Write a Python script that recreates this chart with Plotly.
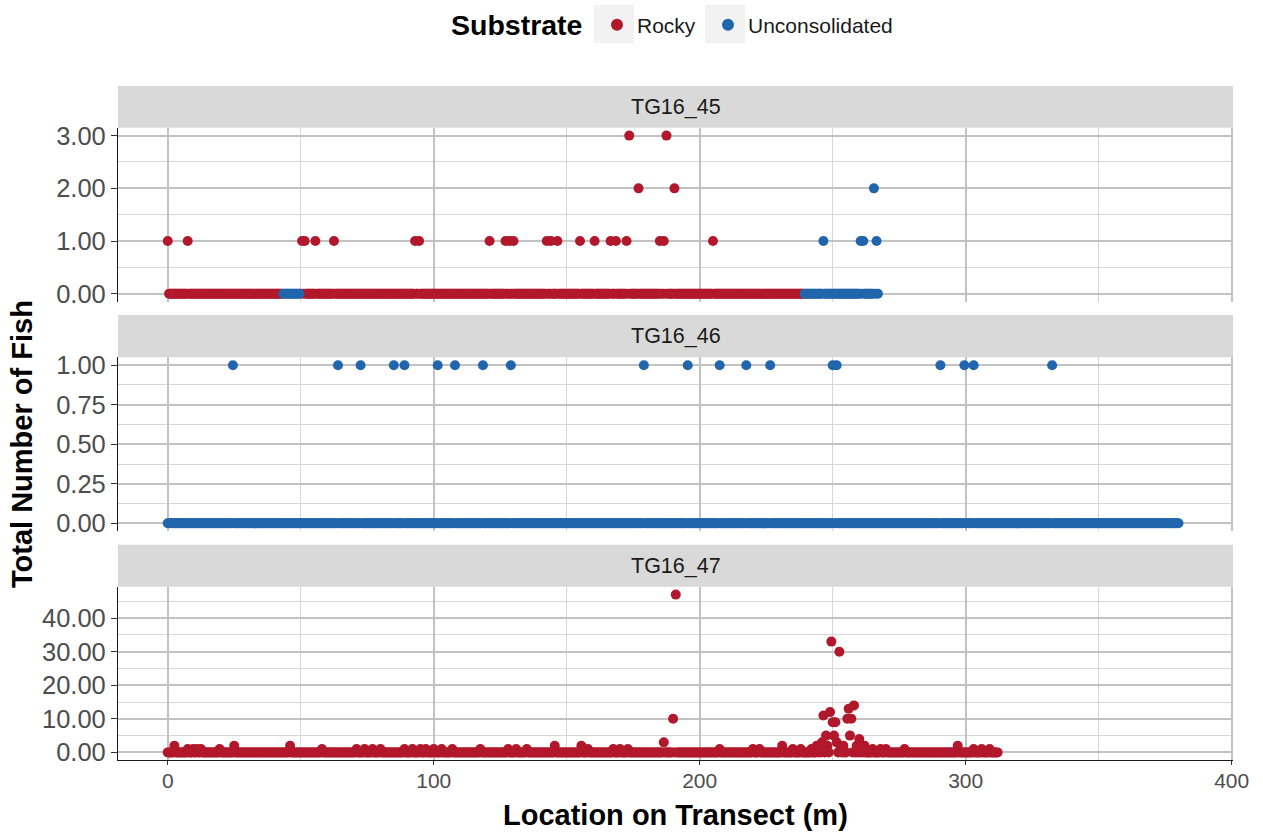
import plotly.graph_objects as go

W, H = 1263, 834
FONT = "Liberation Sans, Arial, sans-serif"

ROCKY_COLOR = "#B2182B"
UNCONS_COLOR = "#2166AC"
SUBSTRATE_COLORS = {"Rocky": ROCKY_COLOR, "Unconsolidated": UNCONS_COLOR}
SUBSTRATES = ["Rocky", "Unconsolidated"]

TRANSECTS = ["TG16_45", "TG16_46", "TG16_47"]

# survey sampling interval along each transect (m)
STEP = 0.5

# substrate segments along each transect: (start m, end m, substrate)
tg45_segments = [(0.0, 43.0, "Rocky"), (43.5, 49.5, "Unconsolidated"),
                 (50.0, 239.0, "Rocky"), (239.5, 267.0, "Unconsolidated")]
tg46_segments = [(0.0, 380.0, "Unconsolidated")]
tg47_segments = [(0.0, 312.0, "Rocky")]

# locations (m) where fish were counted, and the counts there
tg45_fish_loc = [0.0, 7.5, 50.5, 51.5, 55.5, 62.5, 93.0, 94.5, 121.0, 127.0,
                 128.5, 130.0, 142.5, 144.0, 146.5, 155.0, 160.5, 166.5, 168.5, 172.5,
                 173.5, 177.0, 185.0, 186.5, 187.5, 190.5, 205.0,
                 246.5, 260.5, 261.5, 265.5, 266.5]
tg45_fish_n = [1, 1, 1, 1, 1, 1, 1, 1, 1, 1,
               1, 1, 1, 1, 1, 1, 1, 1, 1, 1,
               3, 2, 1, 1, 3, 2, 1,
               1, 1, 1, 2, 1]

tg46_fish_loc = [24.5, 64.0, 72.5, 85.0, 89.0, 101.5, 108.0, 118.5, 129.0, 179.0,
                 195.5, 207.5, 217.5, 226.5, 250.0, 251.5, 290.5, 299.5, 303.0, 332.5]
tg46_fish_n = [1, 1, 1, 1, 1, 1, 1, 1, 1, 1,
               1, 1, 1, 1, 1, 1, 1, 1, 1, 1]

tg47_fish_loc = [2.5, 7.5, 9.5, 11.0, 12.5, 19.5, 25.0, 46.0, 58.0, 71.0,
                 74.0, 77.0, 80.0, 89.0, 92.0, 95.0, 97.0, 100.0, 103.0, 107.0,
                 117.5, 128.0, 131.0, 135.0, 145.5, 155.5, 158.0, 167.5, 170.0, 173.0,
                 186.5, 190.0, 191.0, 207.5, 220.0, 222.5, 231.0, 235.0, 238.0, 242.0,
                 244.0, 245.0, 246.0, 246.5, 247.5, 248.0, 249.0, 249.5, 250.0, 250.5,
                 251.0, 251.5, 252.5, 253.0, 254.0, 255.5, 256.0, 256.5, 257.0, 258.0,
                 259.0, 260.0, 261.0, 262.0, 265.0, 268.0, 270.0, 277.0, 297.0, 303.0,
                 306.0, 309.0]
tg47_fish_n = [2, 1, 1, 1, 1, 1, 2, 2, 1, 1,
               1, 1, 1, 1, 1, 1, 1, 1, 1, 1,
               1, 1, 1, 1, 2, 2, 1, 1, 1, 1,
               3, 10, 47, 1, 1, 1, 2, 1, 1, 1,
               2, 2, 3, 11, 5, 2, 12, 33, 9, 5,
               9, 3, 30, 1, 2, 10, 13, 5, 10, 14,
               2, 4, 1, 2, 1, 1, 1, 1, 2, 1,
               1, 1]

transect_data = {
    "TG16_45": (tg45_segments, tg45_fish_loc, tg45_fish_n),
    "TG16_46": (tg46_segments, tg46_fish_loc, tg46_fish_n),
    "TG16_47": (tg47_segments, tg47_fish_loc, tg47_fish_n),
}


def survey_rows(segments, fish_loc, fish_n):
    """Every sampled location with its fish count (0 where none seen)."""
    counts = {round(loc / STEP): n for loc, n in zip(fish_loc, fish_n)}
    rows = []
    for start, end, substrate in segments:
        for i in range(round(start / STEP), round(end / STEP) + 1):
            rows.append((i * STEP, counts.get(i, 0), substrate))
    return rows


# ---- panel geometry (pixels from the top-left of the page) ----
PX_LEFT, PX_RIGHT = 118, 1233
strip_px = [(86.0, 127.7), (315.0, 357.3), (544.7, 586.7)]
panel_px = [(127.7, 301.7), (357.3, 531.2), (586.7, 760.3)]

y_ranges = [[-0.15, 3.15], [-0.05, 1.05], [-2.35, 49.35]]
y_dticks = [1.0, 0.25, 10.0]
X_RANGE = [-18.7, 400.5]

# legend: one key per substrate, key box left edge (px) and size
KEY_LEFT_PX = {"Rocky": 594, "Unconsolidated": 705}
KEY_TOP_PX, KEY_BOTTOM_PX, KEY_W = 5, 43, 40
LEGEND_IDS = {"Rocky": "legend", "Unconsolidated": "legend2"}


def fx(px):
    return px / W


def fy(py):
    return 1 - py / H


MAJOR_GRID = "#C2C2C2"
MINOR_GRID = "#D6D6D6"
Y_TICK_FONT = dict(family=FONT, size=25.5, color="#4D4D4D")
X_TICK_FONT = dict(family=FONT, size=21, color="#4D4D4D")

fig = go.Figure()

shown = set()
for k, name in enumerate(TRANSECTS):
    rows = survey_rows(*transect_data[name])
    axis_suffix = "" if k == 0 else str(k + 1)
    for sub in SUBSTRATES:
        xs = [r[0] for r in rows if r[2] == sub]
        ys = [r[1] for r in rows if r[2] == sub]
        if not xs:
            continue
        fig.add_trace(go.Scatter(
            x=xs, y=ys, mode="markers", name=sub,
            legendgroup=sub, showlegend=sub not in shown, legend=LEGEND_IDS[sub],
            marker=dict(color=SUBSTRATE_COLORS[sub], size=10, line=dict(width=0)),
            xaxis="x" + axis_suffix, yaxis="y" + axis_suffix,
            hoverinfo="x+y+name",
        ))
        shown.add(sub)

layout_axes = {}
for k in range(3):
    sfx = "" if k == 0 else str(k + 1)
    top, bot = panel_px[k]
    last = k == 2
    layout_axes["xaxis" + sfx] = dict(
        domain=[fx(PX_LEFT), fx(PX_RIGHT)], anchor="y" + sfx, range=X_RANGE,
        tick0=0, dtick=100, showticklabels=last, ticks="outside" if last else "",
        ticklen=4, tickwidth=1.1, tickcolor="#333333", tickfont=X_TICK_FONT,
        ticklabelstandoff=-3,
        showline=last, linecolor="#1A1A1A", linewidth=1.2,
        showgrid=True, gridcolor=MAJOR_GRID, gridwidth=1.6,
        minor=dict(tick0=0, dtick=50, showgrid=True, gridcolor=MINOR_GRID, gridwidth=1.0, ticks=""),
        zeroline=False, fixedrange=True, automargin=False,
    )
    if k > 0:
        layout_axes["xaxis" + sfx]["matches"] = "x"
    layout_axes["yaxis" + sfx] = dict(
        domain=[fy(bot), fy(top)], anchor="x" + sfx, range=y_ranges[k],
        tick0=0, dtick=y_dticks[k], tickformat=".2f",
        ticks="outside", ticklen=6, tickwidth=1.1, tickcolor="#333333", tickfont=Y_TICK_FONT,
        showline=True, linecolor="#1A1A1A", linewidth=1.2,
        showgrid=True, gridcolor=MAJOR_GRID, gridwidth=1.6,
        minor=dict(tick0=0, dtick=y_dticks[k] / 2, showgrid=True, gridcolor=MINOR_GRID, gridwidth=1.0, ticks=""),
        zeroline=False, fixedrange=True, automargin=False,
    )

shapes = []
annotations = []
for k, name in enumerate(TRANSECTS):
    s_top, s_bot = strip_px[k]
    shapes.append(dict(type="rect", xref="paper", yref="paper", layer="below",
                       x0=fx(PX_LEFT), x1=fx(PX_RIGHT), y0=fy(s_bot), y1=fy(s_top),
                       fillcolor="#D9D9D9", line=dict(width=0)))
    annotations.append(dict(text=name, xref="paper", yref="paper",
                            x=fx((PX_LEFT + PX_RIGHT) / 2), y=fy((s_top + s_bot) / 2),
                            xanchor="center", yanchor="middle", showarrow=False,
                            font=dict(family=FONT, size=21.5, color="#1A1A1A")))

# grey backgrounds behind the legend keys, and one legend box per substrate
legends = {}
for sub in SUBSTRATES:
    left = KEY_LEFT_PX[sub]
    shapes.append(dict(type="rect", xref="paper", yref="paper", layer="below",
                       x0=fx(left), x1=fx(left + KEY_W), y0=fy(KEY_BOTTOM_PX), y1=fy(KEY_TOP_PX),
                       fillcolor="#F2F2F2", line=dict(width=0)))
    legends[LEGEND_IDS[sub]] = dict(
        orientation="h", x=fx(left + 3), xanchor="left", y=fy(25), yanchor="middle",
        font=dict(family=FONT, size=21, color="#1A1A1A"),
        bgcolor="rgba(0,0,0,0)", itemsizing="constant",
    )

annotations.append(dict(text="Substrate", xref="paper", yref="paper",
                        x=fx(449), y=fy(25), xanchor="left", yanchor="middle", showarrow=False,
                        font=dict(family=FONT, size=28.5, color="black", weight="bold")))
annotations.append(dict(text="Location on Transect (m)", xref="paper", yref="paper",
                        x=fx((PX_LEFT + PX_RIGHT) / 2), y=fy(815), xanchor="center", yanchor="middle",
                        showarrow=False, font=dict(family=FONT, size=29, color="black", weight="bold")))
annotations.append(dict(text="Total Number of Fish", xref="paper", yref="paper",
                        x=fx(22), y=fy(444), xanchor="center", yanchor="middle", textangle=-90,
                        showarrow=False, font=dict(family=FONT, size=29, color="black", weight="bold")))

fig.update_layout(
    width=W, height=H, autosize=False, margin=dict(l=0, r=0, t=0, b=0),
    paper_bgcolor="white", plot_bgcolor="white",
    font=dict(family=FONT),
    showlegend=True,
    shapes=shapes, annotations=annotations,
    **legends,
    **layout_axes,
)

fig.write_html("out.html", config={"responsive": False})
